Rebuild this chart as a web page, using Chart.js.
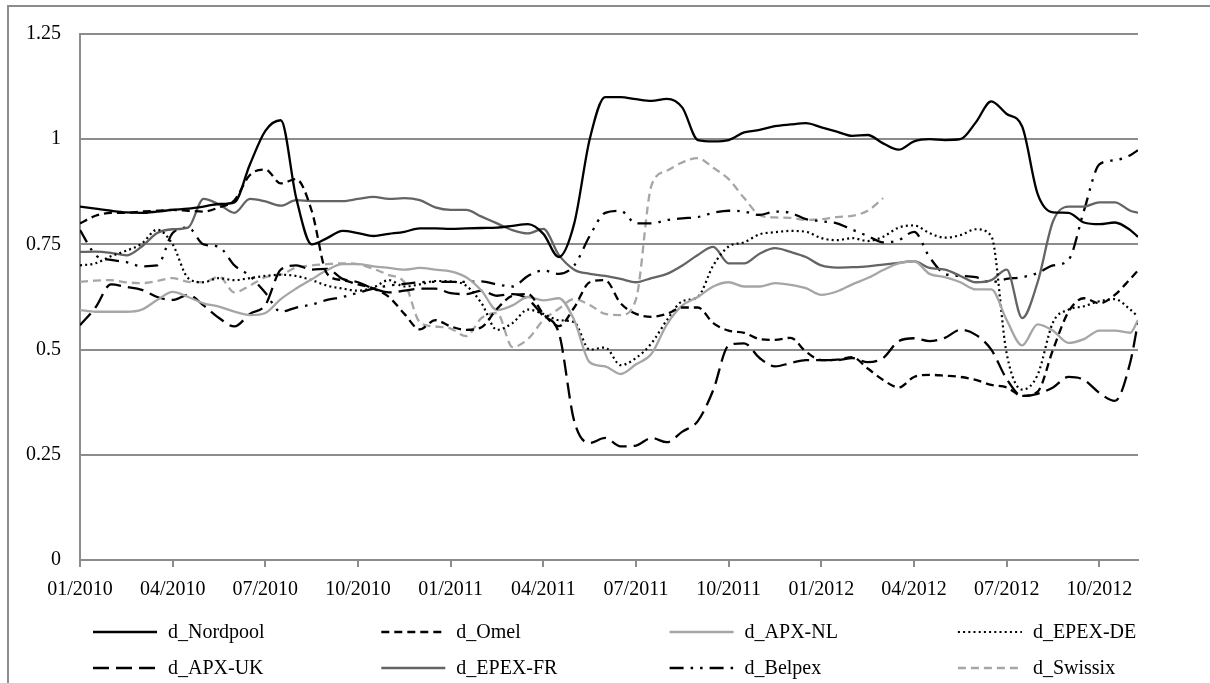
<!DOCTYPE html>
<html><head><meta charset="utf-8">
<script src="https://cdn.jsdelivr.net/npm/chart.js@4.4.1/dist/chart.umd.min.js"></script>
<style>
html,body{margin:0;padding:0;background:#fff;overflow:hidden;}
#frame{position:absolute;left:7px;top:5px;width:1230px;height:720px;border:2px solid #8c8c8c;box-sizing:border-box;}
#c{position:absolute;left:0;top:0;}
</style></head><body>
<div id="frame"></div>
<canvas id="c" width="1210" height="683"></canvas>
<script>
// month index since 01/2010 (0 = Jan 2010)
const months = [0,0.5,1,1.5,2,2.5,3,3.5,4,4.5,5,5.5,6,6.5,7,7.5,8,8.5,9,9.5,10,10.5,11,11.5,12,12.5,13,13.5,14,14.5,15,15.5,16,16.5,17,17.5,18,18.5,19,19.5,20,20.5,21,21.5,22,22.5,23,23.5,24,24.5,25,25.5,26,26.5,27,27.5,28,28.5,29,29.5,30,30.5,31,31.5,32,32.5,33,33.5,34,34.25];

// tick positions (month index) for the x axis labels 01/2010 ... 10/2012
const xTickMonths = [0,3,6,9,12,15,18,21,24,27,30,33];
const yTicks = [0,0.25,0.5,0.75,1,1.25];

const seriesNames = ["d_Nordpool","d_Omel","d_APX-NL","d_EPEX-DE","d_APX-UK","d_EPEX-FR","d_Belpex","d_Swissix"];

const nordpool = [0.84,0.835,0.83,0.826,0.825,0.828,0.832,0.835,0.84,0.846,0.85,0.94,1.02,1.045,0.86,0.75,0.765,0.782,0.777,0.77,0.775,0.78,0.788,0.788,0.787,0.788,0.789,0.79,0.794,0.798,0.775,0.72,0.80,1.0,1.1,1.10,1.095,1.091,1.096,1.075,0.998,0.995,0.998,1.016,1.022,1.031,1.035,1.038,1.028,1.018,1.008,1.01,0.99,0.975,0.995,1.0,0.998,1.0,1.04,1.09,1.06,1.03,0.87,0.826,0.825,0.802,0.798,0.802,0.784,0.768];

const omel = [0.80,0.818,0.825,0.825,0.828,0.83,0.832,0.83,0.828,0.838,0.855,0.915,0.928,0.895,0.905,0.83,0.68,0.665,0.655,0.645,0.625,0.585,0.548,0.57,0.555,0.547,0.553,0.597,0.628,0.632,0.585,0.556,0.60,0.66,0.665,0.61,0.585,0.578,0.585,0.60,0.60,0.563,0.545,0.54,0.525,0.523,0.528,0.495,0.475,0.476,0.482,0.455,0.428,0.41,0.435,0.44,0.438,0.435,0.428,0.416,0.41,0.39,0.40,0.50,0.59,0.622,0.61,0.63,0.668,0.688];

const apxNL = [0.594,0.59,0.59,0.59,0.595,0.618,0.637,0.625,0.61,0.602,0.59,0.582,0.587,0.62,0.645,0.667,0.689,0.703,0.703,0.698,0.694,0.69,0.694,0.69,0.686,0.672,0.64,0.594,0.605,0.625,0.617,0.622,0.57,0.47,0.46,0.442,0.465,0.49,0.56,0.605,0.625,0.65,0.66,0.65,0.65,0.658,0.654,0.646,0.63,0.638,0.655,0.67,0.689,0.705,0.71,0.68,0.672,0.66,0.643,0.643,0.57,0.51,0.56,0.545,0.516,0.525,0.545,0.545,0.54,0.57];

const epexDE = [0.70,0.705,0.722,0.735,0.752,0.785,0.75,0.67,0.66,0.67,0.665,0.67,0.675,0.678,0.675,0.665,0.652,0.645,0.64,0.648,0.665,0.65,0.655,0.663,0.662,0.652,0.61,0.547,0.563,0.595,0.585,0.57,0.565,0.50,0.505,0.463,0.48,0.515,0.57,0.615,0.625,0.70,0.745,0.755,0.774,0.779,0.782,0.78,0.765,0.76,0.765,0.758,0.768,0.79,0.795,0.777,0.766,0.772,0.786,0.77,0.49,0.405,0.44,0.565,0.595,0.603,0.615,0.62,0.595,0.578];

const apxUK = [0.558,0.60,0.655,0.649,0.642,0.625,0.618,0.63,0.605,0.575,0.555,0.585,0.606,0.69,0.70,0.69,0.692,0.668,0.66,0.645,0.636,0.64,0.645,0.645,0.634,0.632,0.64,0.628,0.632,0.62,0.58,0.54,0.33,0.278,0.29,0.27,0.272,0.29,0.28,0.305,0.33,0.404,0.51,0.515,0.48,0.46,0.468,0.475,0.475,0.475,0.48,0.47,0.48,0.52,0.527,0.52,0.528,0.547,0.535,0.50,0.43,0.39,0.395,0.41,0.435,0.428,0.397,0.378,0.47,0.565];

const epexFR = [0.732,0.733,0.73,0.724,0.745,0.777,0.786,0.79,0.858,0.845,0.825,0.858,0.852,0.842,0.855,0.853,0.853,0.853,0.858,0.863,0.858,0.86,0.855,0.838,0.832,0.832,0.816,0.80,0.784,0.776,0.787,0.725,0.69,0.68,0.675,0.668,0.66,0.67,0.68,0.70,0.725,0.744,0.705,0.705,0.728,0.741,0.732,0.72,0.70,0.695,0.696,0.698,0.702,0.706,0.71,0.694,0.69,0.675,0.66,0.665,0.69,0.575,0.66,0.805,0.84,0.84,0.85,0.85,0.83,0.825];

const belpex = [0.784,0.725,0.713,0.708,0.698,0.70,0.777,0.79,0.75,0.744,0.70,0.675,0.635,0.59,0.60,0.607,0.618,0.625,0.635,0.645,0.652,0.656,0.66,0.661,0.661,0.661,0.662,0.655,0.65,0.675,0.688,0.68,0.70,0.77,0.825,0.83,0.80,0.80,0.808,0.812,0.815,0.825,0.83,0.828,0.82,0.828,0.825,0.81,0.805,0.80,0.785,0.77,0.755,0.76,0.78,0.72,0.68,0.675,0.672,0.66,0.668,0.672,0.682,0.70,0.713,0.83,0.94,0.95,0.962,0.974];

const swissix = [0.661,0.664,0.665,0.66,0.658,0.663,0.67,0.661,0.66,0.673,0.636,0.652,0.672,0.678,0.695,0.70,0.703,0.705,0.703,0.692,0.677,0.66,0.565,0.555,0.55,0.532,0.575,0.587,0.506,0.525,0.57,0.597,0.62,0.606,0.585,0.582,0.62,0.89,0.925,0.945,0.955,0.932,0.905,0.86,0.82,0.814,0.813,0.808,0.81,0.815,0.818,0.83,0.86,null,null,null,null,null,null,null,null,null,null,null,null,null,null,null,null,null];

const FONT = "'Liberation Serif','Times New Roman',serif";

function pts(vals){ return months.map((m,i)=>({x:m,y:vals[i]})); }
function mk(label, vals, color, dash, width){
  return {label, data:pts(vals), borderColor:color, backgroundColor:color,
    borderDash:dash, borderWidth:width, pointRadius:0, pointHoverRadius:0,
    fill:false, cubicInterpolationMode:'monotone', spanGaps:false, borderCapStyle:'butt', borderJoinStyle:'round'};
}
function monthLabel(v){
  const mi = Math.round(v);
  const mm = (mi % 12) + 1;
  const yy = 2010 + Math.floor(mi / 12);
  return (mm < 10 ? '0' : '') + mm + '/' + yy;
}

const datasets = [
  mk(seriesNames[0], nordpool, '#000000', [], 2.3),
  mk(seriesNames[1], omel, '#000000', [8,5], 2.3),
  mk(seriesNames[2], apxNL, '#a6a6a6', [], 2.3),
  mk(seriesNames[3], epexDE, '#000000', [2,3.2], 2.2),
  mk(seriesNames[4], apxUK, '#000000', [16,7], 2.3),
  mk(seriesNames[5], epexFR, '#646464', [], 2.3),
  mk(seriesNames[6], belpex, '#000000', [14,7,2.5,7,2.5,7], 2.3),
  mk(seriesNames[7], swissix, '#a6a6a6', [8,5], 2.3)
];

const fixedLegend = {
  id:'fixedLegend',
  afterDraw(chart){
    const ctx = chart.ctx;
    const ca = chart.chartArea;
    ctx.save();
    chart.data.datasets.forEach((ds,i)=>{
      const col = i % 4, row = Math.floor(i / 4);
      const x0 = ca.left + 13 + col * 288.3;
      const y = ca.bottom + 72 + row * 36;
      ctx.strokeStyle = ds.borderColor;
      ctx.lineWidth = ds.borderWidth;
      ctx.lineCap = 'butt';
      ctx.setLineDash(ds.borderDash || []);
      ctx.beginPath(); ctx.moveTo(x0, y); ctx.lineTo(x0 + 64, y); ctx.stroke();
      ctx.setLineDash([]);
      ctx.fillStyle = '#000';
      ctx.font = '20px ' + FONT;
      ctx.textBaseline = 'middle';
      ctx.textAlign = 'left';
      ctx.fillText(ds.label, x0 + 75, y + 1);
    });
    ctx.restore();
  }
};

new Chart(document.getElementById('c'), {
  type:'line',
  data:{datasets},
  plugins:[fixedLegend],
  options:{
    responsive:false, animation:false, devicePixelRatio:1,
    events:[],
    layout:{padding:{left:0, top:34, right:72, bottom:63}},
    plugins:{legend:{display:false}, tooltip:{enabled:false}},
    scales:{
      x:{type:'linear', min:0, max:34.25,
        afterBuildTicks:(s)=>{ s.ticks = xTickMonths.map(v=>({value:v})); },
        afterFit:(s)=>{ s.height = 60; },
        ticks:{autoSkip:false, maxRotation:0, minRotation:0, color:'#000', padding:11,
          font:{family:FONT, size:20}, callback:(v)=>monthLabel(v)},
        grid:{drawOnChartArea:false, drawTicks:true, tickLength:7, color:'#8c8c8c', lineWidth:2},
        border:{display:true, color:'#8c8c8c', width:2}
      },
      y:{min:0, max:1.25,
        afterBuildTicks:(s)=>{ s.ticks = yTicks.map(v=>({value:v})); },
        afterFit:(s)=>{ s.width = 80; },
        ticks:{color:'#000', padding:19, font:{family:FONT, size:20},
          callback:(v)=>String(Math.round(v*100)/100)},
        grid:{color:'#8c8c8c', lineWidth:2, drawTicks:false},
        border:{display:true, color:'#8c8c8c', width:2}
      }
    }
  }
});
</script>
</body></html>
